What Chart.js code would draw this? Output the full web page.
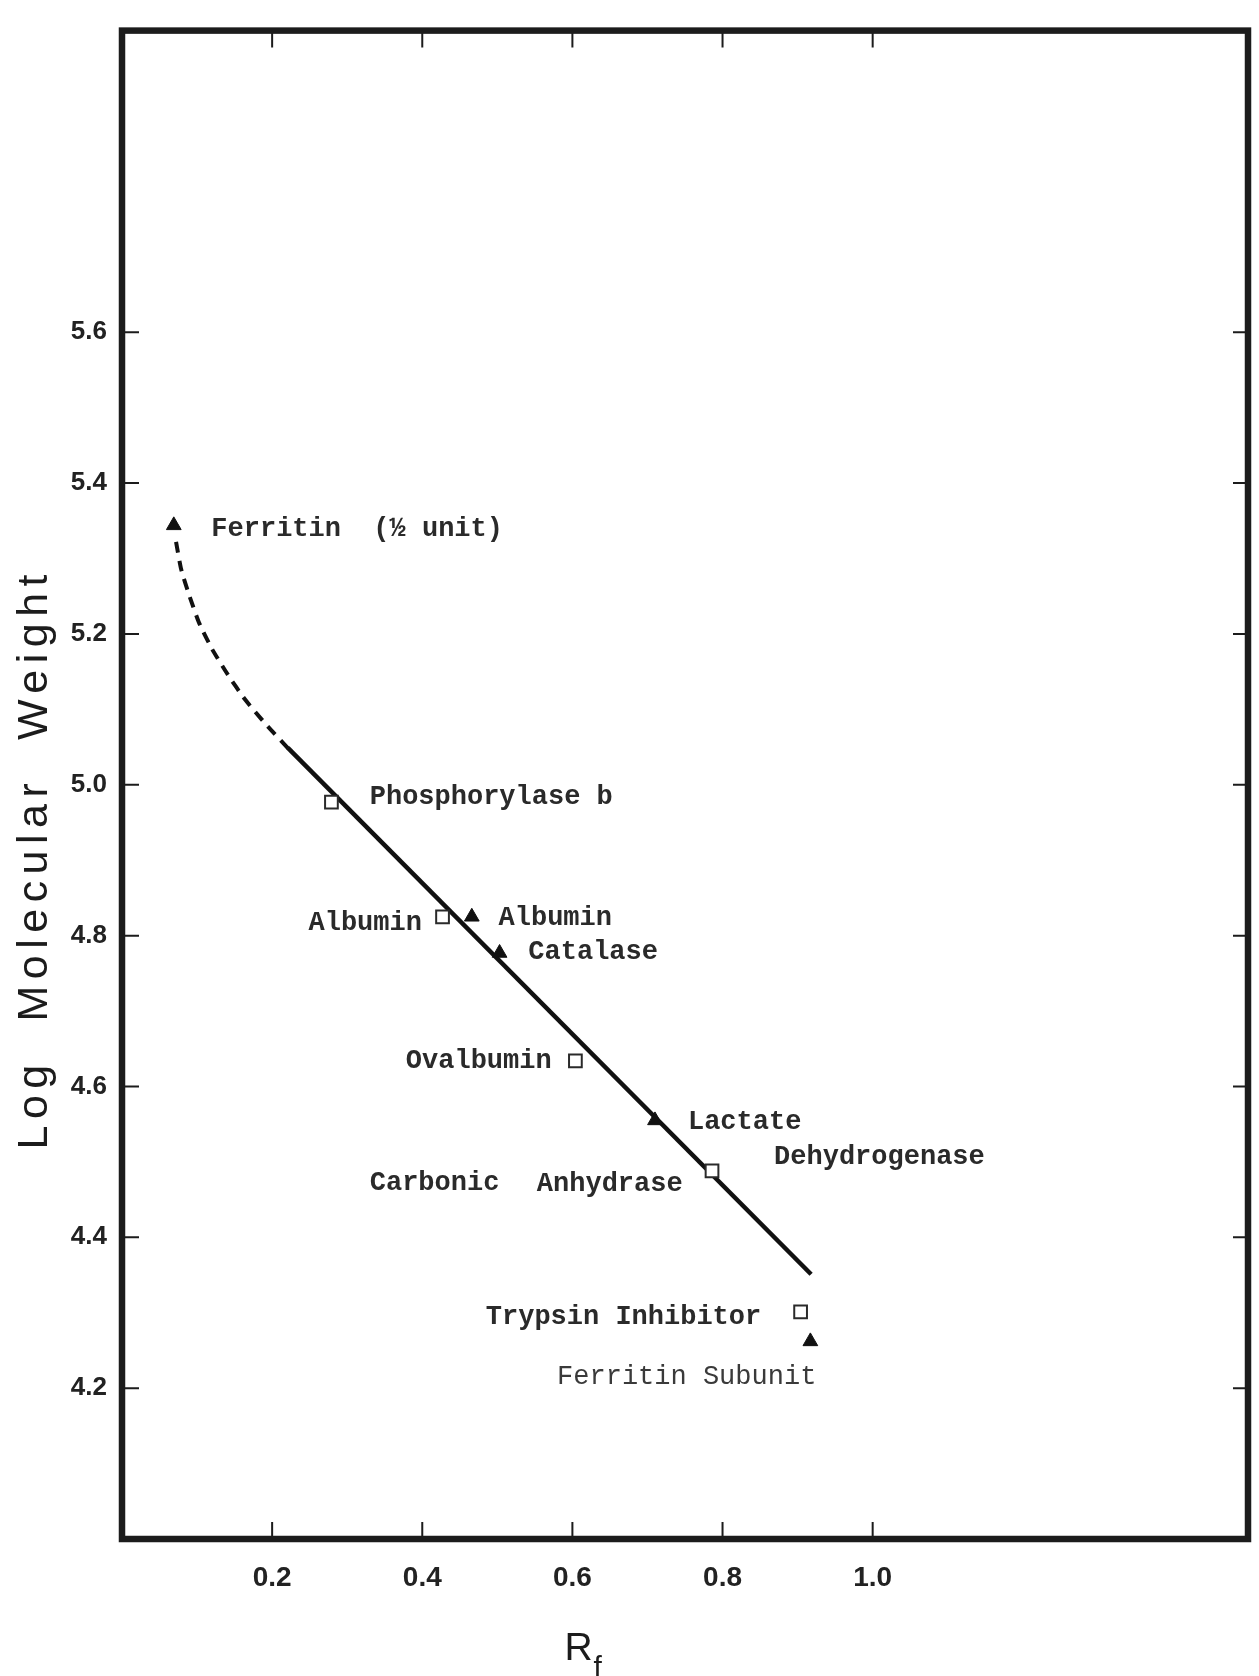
<!DOCTYPE html>
<html>
<head>
<meta charset="utf-8">
<title>Log Molecular Weight vs Rf</title>
<script src="https://cdn.jsdelivr.net/npm/chart.js@4.4.1/dist/chart.umd.min.js"></script>
<style>
  html, body { margin: 0; padding: 0; background: #fff; }
  canvas { display: block; }
</style>
</head>
<body>
<canvas id="rfChart" width="1259" height="1676"></canvas>
<script>
// open squares (Rf, log MW)
const squareRf = [0.279, 0.427, 0.604, 0.786, 0.904];
const squareLogMW = [4.977, 4.825, 4.634, 4.488, 4.301];

// filled triangles
const triangleRf = [0.069, 0.466, 0.503, 0.710, 0.917];
const triangleLogMW = [5.344, 4.825, 4.777, 4.555, 4.262];

// calibration line, and the dashed bit up to ferritin
const fitRf = [0.221, 0.918];
const fitLogMW = [5.049, 4.351];
const dashRf = [0.072, 0.079, 0.090, 0.103, 0.120, 0.141, 0.164, 0.191, 0.2215];
const dashLogMW = [5.322, 5.285, 5.250, 5.214, 5.180, 5.146, 5.113, 5.081, 5.048];

// axis ticks
const xTicks = [0.2, 0.4, 0.6, 0.8, 1.0];
const xTickLabels = ['0.2', '0.4', '0.6', '0.8', '1.0'];
const yTicks = [4.2, 4.4, 4.6, 4.8, 5.0, 5.2, 5.4, 5.6];
const yTickLabels = ['4.2', '4.4', '4.6', '4.8', '5.0', '5.2', '5.4', '5.6'];

// protein names written next to the marks
const noteText = ['Ferritin  (\u00bd unit)', 'Phosphorylase b', 'Albumin', 'Albumin', 'Catalase', 'Ovalbumin',
                  'Lactate', 'Dehydrogenase', 'Carbonic', 'Anhydrase', 'Trypsin Inhibitor', 'Ferritin Subunit'];
const noteRf = [0.119, 0.330, 0.3995, 0.5016, 0.5413, 0.5724, 0.7539, 0.8687, 0.330, 0.5526, 0.4846, 0.5796];
const noteLogMW = [5.339, 4.984, 4.817, 4.823, 4.778, 4.633, 4.553, 4.506, 4.472, 4.470, 4.294, 4.215];
const noteAlign = ['left', 'left', 'right', 'left', 'left', 'right', 'left', 'left', 'left', 'left', 'left', 'left'];

const toPoints = (xs, ys) => xs.map((x, i) => ({ x: x, y: ys[i] }));

const ink = '#1c1c1c';

// frame + inward ticks on all four sides
const framePlugin = {
    id: 'frame',
    afterDatasetsDraw(chart) {
        const { ctx, chartArea: a, scales } = chart;
        ctx.save();
        ctx.strokeStyle = ink;
        ctx.lineWidth = 2;
        yTicks.forEach(v => {
            const py = scales.y.getPixelForValue(v);
            ctx.beginPath();
            ctx.moveTo(a.left, py); ctx.lineTo(a.left + 17, py);
            ctx.moveTo(a.right - 15, py); ctx.lineTo(a.right, py);
            ctx.stroke();
        });
        xTicks.forEach(v => {
            const px = scales.x.getPixelForValue(v);
            ctx.beginPath();
            ctx.moveTo(px, a.bottom); ctx.lineTo(px, a.bottom - 17);
            ctx.moveTo(px, a.top); ctx.lineTo(px, a.top + 17);
            ctx.stroke();
        });
        ctx.lineWidth = 6.5;
        ctx.strokeRect(a.left, a.top, a.right - a.left, a.bottom - a.top);
        ctx.restore();
    }
};

// typed labels beside the points
const notesPlugin = {
    id: 'notes',
    afterDatasetsDraw(chart) {
        const { ctx, scales } = chart;
        ctx.save();
        ctx.textBaseline = 'middle';
        noteText.forEach((t, i) => {
            const light = t === 'Ferritin Subunit';
            ctx.font = (light ? '' : 'bold ') + '27px "Liberation Mono", "Courier New", monospace';
            ctx.fillStyle = light ? '#3a3a3a' : '#2a2a2a';
            ctx.textAlign = noteAlign[i];
            ctx.fillText(t, scales.x.getPixelForValue(noteRf[i]), scales.y.getPixelForValue(noteLogMW[i]));
        });
        ctx.restore();
    }
};

// axis titles (spaced-out y title, R with subscript f)
const titlesPlugin = {
    id: 'titles',
    afterDraw(chart) {
        const { ctx } = chart;
        ctx.save();
        ctx.fillStyle = ink;

        const yTitle = 'Log  Molecular  Weight';
        ctx.font = '43px "Liberation Sans", Arial, sans-serif';
        const w0 = ctx.measureText(yTitle).width;
        const target = 575;
        const ls = (target - w0) / (yTitle.length - 1);
        ctx.letterSpacing = ls + 'px';
        ctx.translate(47, 862);
        ctx.rotate(-Math.PI / 2);
        ctx.textAlign = 'left';
        ctx.textBaseline = 'alphabetic';
        ctx.fillText(yTitle, -target / 2, 0);
        ctx.restore();

        ctx.save();
        ctx.fillStyle = ink;
        const cx = chart.scales.x.getPixelForValue(0.6);
        ctx.font = '39px "Liberation Sans", Arial, sans-serif';
        ctx.textAlign = 'left';
        ctx.textBaseline = 'alphabetic';
        ctx.fillText('R', cx - 8, 1660);
        ctx.font = '30px "Liberation Sans", Arial, sans-serif';
        ctx.fillText('f', cx + 21, 1677);
        ctx.restore();
    }
};

const ctx = document.getElementById('rfChart').getContext('2d');
const rfChart = new Chart(ctx, {
    type: 'scatter',
    data: {
        datasets: [
            {
                label: 'squares',
                data: toPoints(squareRf, squareLogMW),
                pointStyle: 'rect',
                pointRadius: 9,
                pointBorderWidth: 2,
                pointBackgroundColor: '#ffffff',
                pointBorderColor: '#2a2a2a',
                showLine: false
            },
            {
                label: 'triangles',
                data: toPoints(triangleRf, triangleLogMW),
                pointStyle: 'triangle',
                pointRadius: 8.5,
                pointBorderWidth: 1,
                pointBackgroundColor: '#111',
                pointBorderColor: '#111',
                showLine: false
            },
            {
                label: 'fit',
                data: toPoints(fitRf, fitLogMW),
                showLine: true,
                borderColor: '#111',
                borderWidth: 4.5,
                pointRadius: 0
            },
            {
                label: 'extrapolated',
                data: toPoints(dashRf, dashLogMW),
                showLine: true,
                borderColor: '#111',
                borderWidth: 4,
                borderDash: [11, 8],
                tension: 0.2,
                pointRadius: 0
            }
        ]
    },
    options: {
        responsive: false,
        animation: false,
        layout: { padding: { top: 19, right: 6, left: 0, bottom: 0 } },
        plugins: {
            legend: { display: false },
            tooltip: { enabled: false }
        },
        scales: {
            x: {
                type: 'linear',
                min: 0,
                max: 1.5,
                grid: { display: false, drawTicks: false },
                border: { display: false },
                afterBuildTicks: s => { s.ticks = xTicks.map(v => ({ value: v })); },
                afterFit: s => { s.height = 137; },
                ticks: {
                    padding: 22,
                    color: '#222',
                    font: { family: '"Liberation Sans", Arial, sans-serif', size: 28, weight: 'bold' },
                    callback: (v, i) => xTickLabels[i]
                }
            },
            y: {
                type: 'linear',
                min: 4.0,
                max: 6.0,
                grid: { display: false, drawTicks: false },
                border: { display: false },
                afterBuildTicks: s => { s.ticks = yTicks.map(v => ({ value: v })); },
                afterFit: s => { s.width = 122; },
                ticks: {
                    padding: 15,
                    color: '#222',
                    font: { family: '"Liberation Sans", Arial, sans-serif', size: 26, weight: 'bold' },
                    callback: (v, i) => yTickLabels[i]
                }
            }
        }
    },
    plugins: [framePlugin, notesPlugin, titlesPlugin]
});
</script>
</body>
</html>
